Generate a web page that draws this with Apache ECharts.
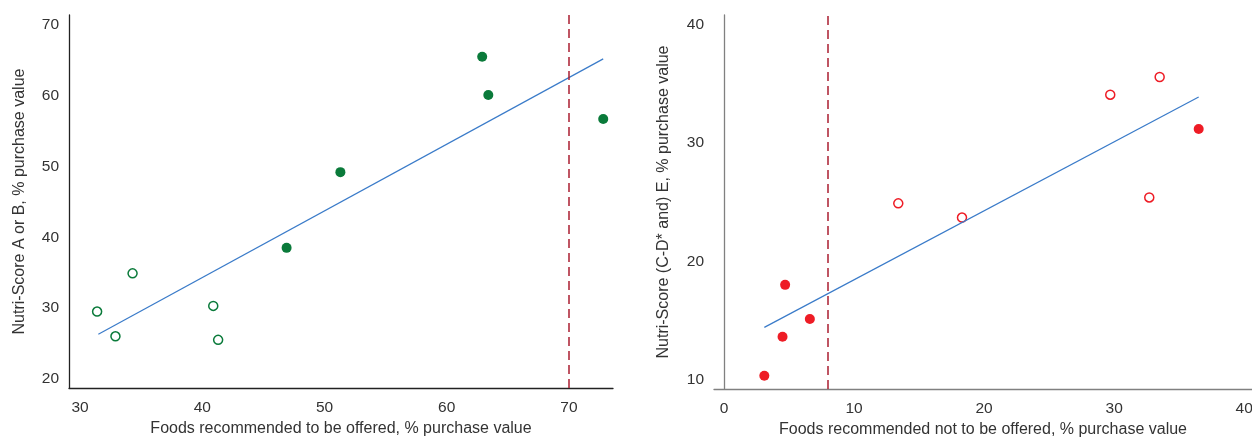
<!DOCTYPE html>
<html>
<head>
<meta charset="utf-8">
<script src="https://cdn.jsdelivr.net/npm/echarts@6/dist/echarts.min.js"></script>
<style>
  html, body { margin: 0; padding: 0; background: #fff; }
  #chart { width: 1252px; height: 438px; }
</style>
</head>
<body>
<div id="chart"></div>
<script>
// left panel: foods recommended to be offered vs Nutri-Score A/B
const leftOpenX = [31.4, 32.9, 34.3, 40.9, 41.3];
const leftOpenY = [29.5, 26.0, 34.9, 30.3, 25.5];
const leftFilledX = [46.9, 51.3, 62.9, 63.4, 72.8];
const leftFilledY = [38.5, 49.2, 65.5, 60.1, 56.7];
const leftTrendX = [31.5, 72.8];
const leftTrendY = [26.3, 65.2];
const leftCutoff = 70;

// right panel: foods recommended not to be offered vs Nutri-Score (C-D*) E
const rightFilledX = [3.1, 4.5, 4.7, 6.6, 36.5];
const rightFilledY = [10.3, 13.6, 18.0, 15.1, 31.2];
const rightOpenX = [13.4, 18.3, 29.7, 33.5, 32.7];
const rightOpenY = [24.9, 23.7, 34.1, 35.6, 25.4];
const rightTrendX = [3.1, 36.5];
const rightTrendY = [14.4, 33.9];
const rightCutoff = 8;

const pairs = (xs, ys) => xs.map((x, i) => [x, ys[i]]);

const green = '#0a7a3a';
const red = '#ee1c25';
const blue = '#3a7bc9';
const dashRed = '#aa1e30';
const font = 'Liberation Sans, Arial, sans-serif';

const tens = v => (Math.abs(v % 10) < 1e-6 ? String(v) : '');

function valueAxis(gridIndex, min, max, name, gap, lineColor, labelMargin) {
  return {
    type: 'value',
    gridIndex: gridIndex,
    min: min,
    max: max,
    name: name,
    nameLocation: 'middle',
    nameGap: gap,
    nameTextStyle: { fontFamily: font, fontSize: 16, color: '#333' },
    axisLine: { show: true, lineStyle: { color: lineColor, width: 1.3 } },
    axisTick: { show: false },
    splitLine: { show: false },
    axisLabel: {
      fontFamily: font, fontSize: 15.5, color: '#333', margin: labelMargin,
      showMinLabel: false, showMaxLabel: false,
      formatter: tens
    }
  };
}

function scatter(axis, xs, ys, color, open) {
  return {
    type: 'scatter', xAxisIndex: axis, yAxisIndex: axis,
    data: pairs(xs, ys),
    symbolSize: open ? 9 : 10,
    itemStyle: open
      ? { color: '#fff', borderColor: color, borderWidth: 1.5, opacity: 1 }
      : { color: color, opacity: 1 },
    emphasis: { disabled: true }
  };
}

function trend(axis, xs, ys, cutoff) {
  return {
    type: 'line', xAxisIndex: axis, yAxisIndex: axis,
    data: pairs(xs, ys),
    symbol: 'none',
    lineStyle: { color: blue, width: 1.2 },
    emphasis: { disabled: true },
    markLine: {
      silent: true, symbol: 'none', label: { show: false },
      lineStyle: { color: dashRed, type: [9, 5], width: 1.5, opacity: 1 },
      emphasis: { disabled: true },
      data: [{ xAxis: cutoff }]
    }
  };
}

const chart = echarts.init(document.getElementById('chart'));
chart.setOption({
  animation: false,
  grid: [
    { left: 69, right: 639, top: 15, bottom: 50, outerBoundsMode: 'none', containLabel: false },
    { left: 714, right: 0, top: 15, bottom: 49, outerBoundsMode: 'none', containLabel: false }
  ],
  xAxis: [
    valueAxis(0, 29.1, 73.6, 'Foods recommended to be offered, % purchase value', 33, '#222', 12),
    valueAxis(1, -0.77, 40.6, 'Foods recommended not to be offered, % purchase value', 33, '#808080', 12)
  ],
  yAxis: [
    valueAxis(0, 18.7, 71.4, 'Nutri-Score A or B, % purchase value', 41, '#222', 10),
    valueAxis(1, 9.18, 40.85, 'Nutri-Score (C-D* and) E, % purchase value', 42, '#808080', 10)
  ],
  series: [
    trend(0, leftTrendX, leftTrendY, leftCutoff),
    scatter(0, leftOpenX, leftOpenY, green, true),
    scatter(0, leftFilledX, leftFilledY, green, false),
    trend(1, rightTrendX, rightTrendY, rightCutoff),
    scatter(1, rightOpenX, rightOpenY, red, true),
    scatter(1, rightFilledX, rightFilledY, red, false)
  ]
});
</script>
</body>
</html>
